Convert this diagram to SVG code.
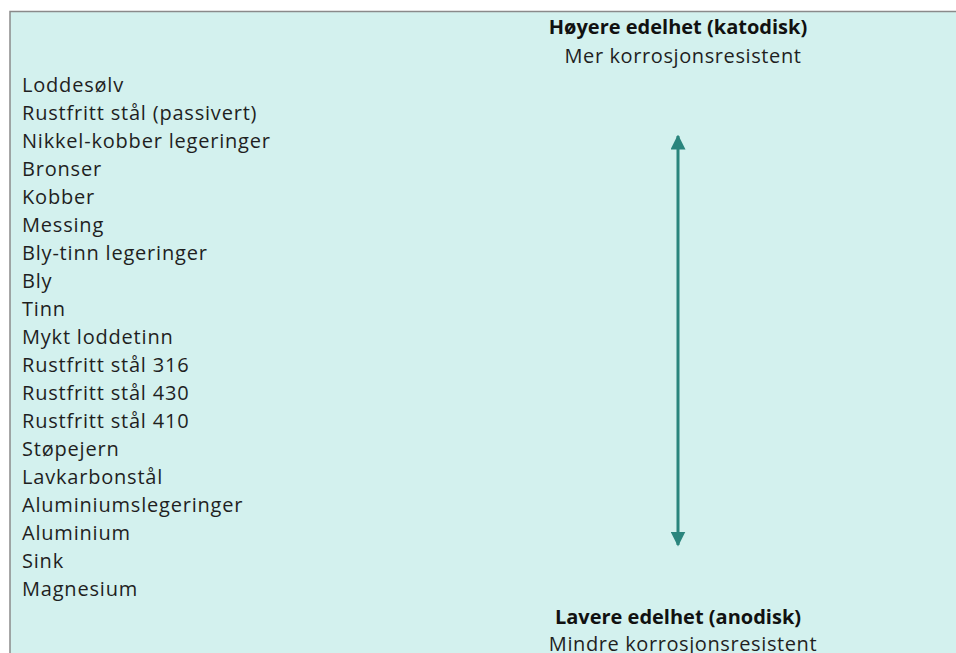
<svg xmlns="http://www.w3.org/2000/svg" width="956" height="653" viewBox="0 0 956 653">
<style>
.item{font-family:"Open Sans","Noto Sans",sans-serif;font-size:20px;letter-spacing:0.8px;fill:#1f1f1f}
.hb{font-family:"Open Sans","Noto Sans",sans-serif;font-size:20px;font-weight:bold;fill:#111;text-anchor:middle}
.hn{font-family:"Open Sans","Noto Sans",sans-serif;font-size:20px;letter-spacing:0.6px;fill:#1f1f1f;text-anchor:middle}
</style>
<defs>
<marker id="ah" viewBox="0 0 10 10" refX="9" refY="5" markerWidth="5" markerHeight="5" orient="auto-start-reverse" markerUnits="strokeWidth">
<path d="M0,0 L10,5 L0,10 z" fill="#2a857d"/>
</marker>
</defs>
<rect width="956" height="653" fill="#ffffff"/>
<rect x="10" y="11.5" width="960" height="660" fill="#d3f1ee" stroke="#8a8a8a" stroke-width="1.5"/>
<g id="header-top">
<text class="hb" x="678" y="34">Høyere edelhet (katodisk)</text>
<text class="hn" x="683" y="63">Mer korrosjonsresistent</text>
</g>
<g id="list">
<text class="item" x="22" y="92">Loddesølv</text>
<text class="item" x="22" y="120">Rustfritt stål (passivert)</text>
<text class="item" x="22" y="148">Nikkel-kobber legeringer</text>
<text class="item" x="22" y="176">Bronser</text>
<text class="item" x="22" y="204">Kobber</text>
<text class="item" x="22" y="232">Messing</text>
<text class="item" x="22" y="260">Bly-tinn legeringer</text>
<text class="item" x="22" y="288">Bly</text>
<text class="item" x="22" y="316">Tinn</text>
<text class="item" x="22" y="344">Mykt loddetinn</text>
<text class="item" x="22" y="372">Rustfritt stål 316</text>
<text class="item" x="22" y="400">Rustfritt stål 430</text>
<text class="item" x="22" y="428">Rustfritt stål 410</text>
<text class="item" x="22" y="456">Støpejern</text>
<text class="item" x="22" y="484">Lavkarbonstål</text>
<text class="item" x="22" y="512">Aluminiumslegeringer</text>
<text class="item" x="22" y="540">Aluminium</text>
<text class="item" x="22" y="568">Sink</text>
<text class="item" x="22" y="596">Magnesium</text>
</g>
<g id="header-bottom">
<text class="hb" x="678" y="624">Lavere edelhet (anodisk)</text>
<text class="hn" x="683" y="651">Mindre korrosjonsresistent</text>
</g>
<g id="connectors">
<line x1="678" y1="136" x2="678" y2="545" stroke="#2a857d" stroke-width="3" marker-start="url(#ah)" marker-end="url(#ah)"/>
</g>
</svg>
